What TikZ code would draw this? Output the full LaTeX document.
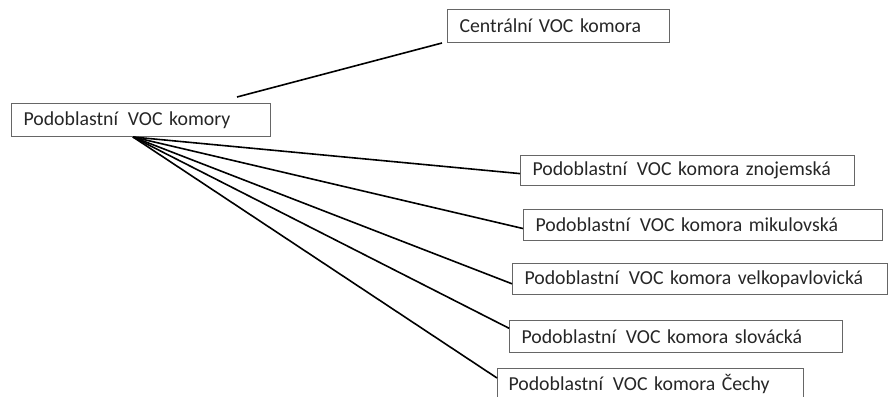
\documentclass[tikz,border=0pt]{standalone}
\usepackage{fontspec}
\setmainfont{Carlito}
\usetikzlibrary{calc}
\begin{document}
\begin{tikzpicture}[x=1pt,y=1pt,
  box/.style={draw=black!60, line width=1pt, text=black!85, inner xsep=12pt, inner ysep=0pt,
    anchor=north west, align=left, font=\fontsize{19.8}{21}\selectfont},
  link/.style={draw=black, line width=1.6pt}]
\useasboundingbox (0,0) rectangle (888,-396);
\node[box, text width=235pt, minimum height=33pt] (root) at (11,-103) {Podoblastní\, VOC komory};
\node[box, text width=198pt, minimum height=33pt] (central) at (447,-9) {Centrální VOC komora};
\node[box, text width=310pt, minimum height=30pt] (zno) at (520,-155) {Podoblastní\, VOC komora znojemská};
\node[box, text width=335pt, minimum height=31pt] (miku) at (523,-209) {Podoblastní\, VOC komora mikulovská};
\node[box, text width=351pt, minimum height=31pt] (velko) at (512,-263) {Podoblastní\, VOC komora velkopavlovická};
\node[box, text width=309pt, minimum height=32pt] (slov) at (509,-320) {Podoblastní\, VOC komora slovácká};
\node[box, text width=284pt, minimum height=31pt, inner xsep=11pt, text width=284pt] (cechy) at (497,-368) {Podoblastní\, VOC komora Čechy};
\coordinate (hub) at ($(root.south west)+(122,0)$);
\coordinate (cstart) at ($(root.north west)+(226,6)$);
\coordinate (cend) at ($(central.south west)+(-5,0)$);
\draw[link] (cstart) -- (cend);
\draw[link] (hub) -- ($(zno.south west)!0.4!(zno.north west)$);
\draw[link] (hub) -- ($(miku.south west)!0.39!(miku.north west)$);
\draw[link] (hub) -- ($(velko.south west)!0.35!(velko.north west)$);
\draw[link] (hub) -- ($(slov.south west)!0.75!(slov.north west)$);
\draw[link] (hub) -- ($(cechy.north west)+(0,-10)$);
\end{tikzpicture}
\end{document}
